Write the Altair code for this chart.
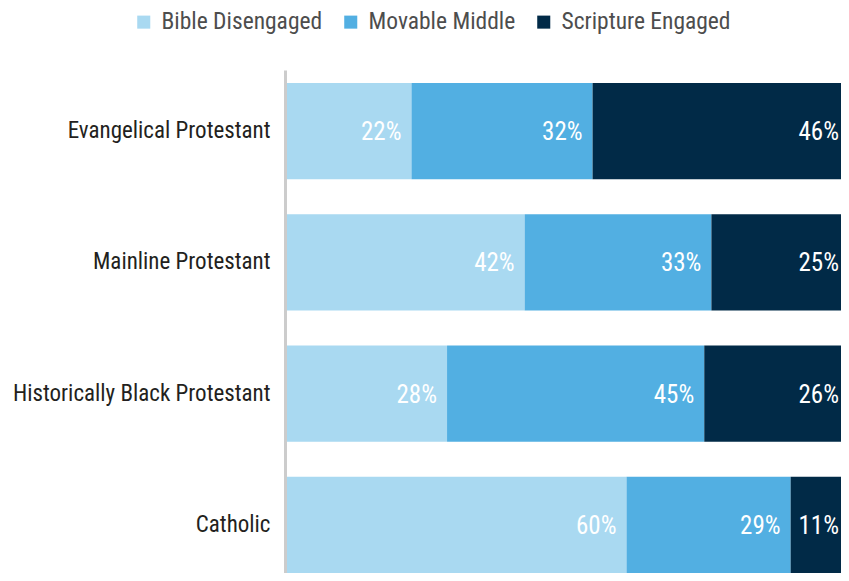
import altair as alt
import pandas as pd

FONT = "Roboto Condensed, Liberation Sans Narrow, Arial Narrow, Roboto, sans-serif"

groups = ["Evangelical Protestant", "Mainline Protestant",
          "Historically Black Protestant", "Catholic"]
segments = ["Bible Disengaged", "Movable Middle", "Scripture Engaged"]
disengaged = [22, 42, 28, 60]
movable = [32, 33, 45, 29]
engaged = [46, 25, 26, 11]
colors = ["#a9d9f1", "#52afe2", "#012a47"]

rows = []
for i, g in enumerate(groups):
    vals = [disengaged[i], movable[i], engaged[i]]
    total = sum(vals)
    cum = 0
    for j, (s, v) in enumerate(zip(segments, vals)):
        start = cum / total * 100
        cum += v
        end = cum / total * 100
        rows.append(dict(group=g, segment=s, order=j, value=v,
                         start=start, end=end, label=f"{v}%",
                         last=(j == len(segments) - 1)))
df = pd.DataFrame(rows)

y_enc = alt.Y(
    "group:N", sort=groups, title=None,
    scale=alt.Scale(paddingInner=0.267, paddingOuter=0.05, align=1),
    axis=alt.Axis(domainColor="#cccccc", domainWidth=3, ticks=False, tickSize=0,
                  labelFontSize=23, labelColor="#231f20", labelFont=FONT,
                  labelPadding=15, offset=2, labelLimit=320),
)
x_scale = alt.Scale(domain=[0, 97.9], nice=False, zero=False, clamp=True)

base = alt.Chart(df)

bars = base.mark_bar(clip=True).encode(
    x=alt.X("start:Q", scale=x_scale, axis=None),
    x2="end:Q",
    y=y_enc,
    color=alt.Color(
        "segment:N", sort=segments,
        scale=alt.Scale(domain=segments, range=colors),
        legend=alt.Legend(
            title=None, orient="none", direction="horizontal",
            legendX=-155, legendY=-60,
            symbolType="square", symbolSize=170, symbolStrokeWidth=0,
            labelFont=FONT, labelFontSize=23.5, labelColor="#4d4d4d",
            labelOffset=6, columnPadding=16, labelLimit=300,
        ),
    ),
    order=alt.Order("order:Q"),
)

inner_labels = base.transform_filter("!datum.last").mark_text(
    align="right", baseline="middle", dx=-10, dy=1,
    color="white", fontSize=25, font=FONT,
).encode(
    x=alt.X("end:Q", scale=x_scale),
    y=alt.Y("group:N", sort=groups),
    text="label:N",
)

end_labels = base.transform_filter("datum.last").mark_text(
    align="right", baseline="middle", dx=-2, dy=1,
    color="white", fontSize=25, font=FONT,
).encode(
    x=alt.X("end:Q", scale=x_scale),
    y=alt.Y("group:N", sort=groups),
    text="label:N",
)

chart = (bars + inner_labels + end_labels).properties(
    width=554, height=503,
    autosize=alt.AutoSizeParams(type="none"),
    padding={"left": 279, "top": 62, "right": 0, "bottom": 0},
).configure_view(stroke=None)

chart.save("out.html", embed_options={"renderer": "svg", "actions": False})
